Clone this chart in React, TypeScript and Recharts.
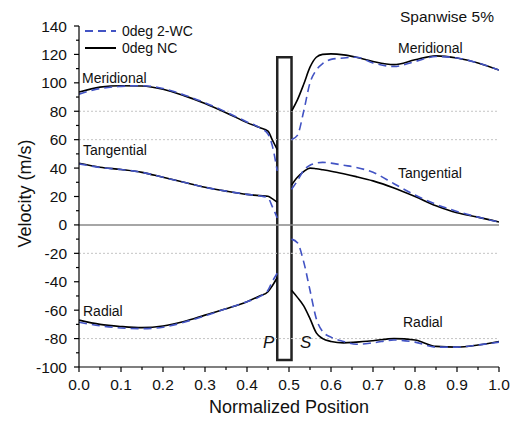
import React from 'react';
import {
  LineChart,
  Line,
  XAxis,
  YAxis,
  ReferenceLine,
  ReferenceArea,
  Legend
} from 'recharts';

const FONT = "'Liberation Sans', Arial, sans-serif";
const WC_COLOR = '#4253c4';

// normalized positions, pressure side of the blade / suction side of the blade
const leftPositions = [0, 0.05, 0.1, 0.15, 0.2, 0.25, 0.3, 0.35, 0.4, 0.43, 0.45, 0.46, 0.472];
const rightPositions = [0.506, 0.52, 0.535, 0.55, 0.565, 0.58, 0.6, 0.63, 0.66, 0.7, 0.75, 0.8, 0.85, 0.9, 0.95, 1.0];

// velocities (m/s), left values then right values
const ncMeridional = [
  93.5, 97, 98, 97.8, 95.5, 91, 85.5, 79, 72, 68.5, 66, 60, 53,
  80, 88, 99, 111, 118, 120, 120.4, 119.7, 118, 115, 112.8, 116.2, 119, 117.5, 114, 109
];
const wcMeridional = [
  92, 96, 97.5, 98, 96, 91.5, 86, 79.5, 72.5, 68.5, 64, 56, 38,
  60, 63, 80, 100, 109, 113.5, 116.5, 117.5, 118, 114, 111.5, 115, 118.5, 117.5, 114, 109
];
const ncTangential = [
  43.4, 40.6, 39, 37, 33.5, 30, 26.5, 23.8, 21.5, 20.6, 20.2, 18.5, 16,
  28, 33.5, 37.5, 40, 39.5, 38.8, 37.8, 36, 34, 31, 26, 20, 13.5, 8.5, 5.5, 2
];
const wcTangential = [
  43, 40.5, 39, 37, 33.5, 30, 26.5, 23.8, 21.5, 20.5, 19, 13, 5,
  25, 31, 38.5, 42, 43.5, 44, 43.5, 42, 40.5, 37, 29, 21, 14.5, 9.5, 5.5, 2
];
const ncRadial = [
  -67, -70, -71.5, -72.3, -71.2, -68, -63.5, -59, -54, -50, -47, -43, -37,
  -46, -51, -57, -66, -76, -80, -82, -83, -82.5, -81.5, -80, -81, -85.5, -86, -84.5, -82
];
const wcRadial = [
  -68.5, -71, -72.5, -73, -72, -68.5, -64, -59, -54, -50.5, -46, -40, -34,
  -10, -12.5, -26, -46, -66, -75, -79, -82, -84, -83, -81, -82.5, -86, -86, -84.5, -82.5
];

const xTicks = [0, 0.05, 0.1, 0.15, 0.2, 0.25, 0.3, 0.35, 0.4, 0.45, 0.5, 0.55, 0.6, 0.65, 0.7, 0.75, 0.8, 0.85, 0.9, 0.95, 1.0];
const yTicks = [-100, -90, -80, -70, -60, -50, -40, -30, -20, -10, 0, 10, 20, 30, 40, 50, 60, 70, 80, 90, 100, 110, 120, 130, 140];
const dottedLevels = [80, 60, -20, -80];
const legendNames = ['0deg 2-WC', '0deg NC'];
const blade = { x1: 0.472, x2: 0.506, y1: -95, y2: 118 };

const rows = [...leftPositions, ...rightPositions].map((x, i) => ({
  x,
  ncMer: ncMeridional[i],
  wcMer: wcMeridional[i],
  ncTan: ncTangential[i],
  wcTan: wcTangential[i],
  ncRad: ncRadial[i],
  wcRad: wcRadial[i]
}));
const gap = { x: 0.49, ncMer: null, wcMer: null, ncTan: null, wcTan: null, ncRad: null, wcRad: null };
const data = [...rows.slice(0, leftPositions.length), gap, ...rows.slice(leftPositions.length)];

const XTick = (props: any) => {
  const { x, y, payload } = props;
  const major = Math.round(payload.value * 100) % 10 === 0;
  return (
    <g>
      <line x1={x} y1={y} x2={x} y2={y + (major ? 5 : 3)} stroke="#000" strokeWidth={1.2} />
      {major && (
        <text x={x} y={y + 23} textAnchor="middle" fontSize={15.5} fill="#111" fontFamily={FONT}>
          {payload.value.toFixed(1)}
        </text>
      )}
    </g>
  );
};

const YTick = (props: any) => {
  const { x, y, payload } = props;
  const major = payload.value % 20 === 0;
  return (
    <g>
      <line x1={x} y1={y} x2={x - (major ? 5 : 3)} y2={y} stroke="#000" strokeWidth={1.2} />
      {major && (
        <text x={x - 12} y={y + 5.5} textAnchor="end" fontSize={15.5} fill="#111" fontFamily={FONT}>
          {payload.value}
        </text>
      )}
    </g>
  );
};

const renderLegend = (props: any) => {
  const items = (props.payload || [])
    .filter((it: any) => legendNames.includes(it.value))
    .sort((a: any, b: any) => legendNames.indexOf(a.value) - legendNames.indexOf(b.value));
  return (
    <div style={{ fontFamily: FONT, fontSize: 14, color: '#111' }}>
      {items.map((it: any) => (
        <div key={it.value} style={{ display: 'flex', alignItems: 'center', height: 17 }}>
          <svg width={38} height={10}>
            <line
              x1={1}
              y1={5}
              x2={32}
              y2={5}
              stroke={it.color}
              strokeWidth={2}
              strokeDasharray={it.payload && it.payload.strokeDasharray}
            />
          </svg>
          <span>{it.value}</span>
        </div>
      ))}
    </div>
  );
};

const notes = [
  { text: 'Meridional', left: 82, top: 71 },
  { text: 'Meridional', left: 398, top: 41 },
  { text: 'Tangential', left: 83, top: 143 },
  { text: 'Tangential', left: 398, top: 166 },
  { text: 'Radial', left: 83, top: 304 },
  { text: 'Radial', left: 403, top: 315 }
];

const App: React.FC = () => {
  return (
    <div style={{ position: 'absolute', left: 0, top: 0, width: 512, height: 423, background: '#fff', fontFamily: FONT }}>
      <LineChart width={512} height={423} data={data} margin={{ top: 26, right: 13, bottom: 16, left: 19 }}>
        <XAxis
          dataKey="x"
          type="number"
          domain={[0, 1]}
          ticks={xTicks}
          interval={0}
          tick={<XTick />}
          tickLine={false}
          tickSize={0}
          tickMargin={0}
          height={40}
          axisLine={{ stroke: '#000', strokeWidth: 1.2 }}
          allowDataOverflow
          label={{
            content: (p: any) => (
              <text
                x={p.viewBox.x + p.viewBox.width / 2}
                y={p.viewBox.y + 46}
                textAnchor="middle"
                fontSize={18}
                fill="#111"
                fontFamily={FONT}
              >
                Normalized Position
              </text>
            )
          }}
        />
        <YAxis
          type="number"
          domain={[-100, 140]}
          ticks={yTicks}
          interval={0}
          tick={<YTick />}
          tickLine={false}
          tickSize={0}
          tickMargin={0}
          width={60}
          axisLine={{ stroke: '#000', strokeWidth: 1.2 }}
          allowDataOverflow
          label={{
            content: (p: any) => {
              const cx = p.viewBox.x + 12;
              const cy = p.viewBox.y + p.viewBox.height / 2 - 3;
              return (
                <text
                  x={cx}
                  y={cy}
                  transform={`rotate(-90 ${cx} ${cy})`}
                  textAnchor="middle"
                  fontSize={18}
                  fill="#111"
                  fontFamily={FONT}
                >
                  Velocity (m/s)
                </text>
              );
            }
          }}
        />
        {dottedLevels.map((lv) => (
          <ReferenceLine key={lv} y={lv} stroke="#c4c4c4" strokeDasharray="2 2" strokeWidth={1} />
        ))}
        <ReferenceLine y={0} stroke="#888" strokeWidth={1.5} />

        <Line dataKey="ncMer" name="0deg NC" type="monotone" stroke="#000" strokeWidth={1.6} dot={false} isAnimationActive={false} />
        <Line dataKey="ncTan" type="monotone" stroke="#000" strokeWidth={1.6} dot={false} legendType="none" isAnimationActive={false} />
        <Line dataKey="ncRad" type="monotone" stroke="#000" strokeWidth={1.6} dot={false} legendType="none" isAnimationActive={false} />
        <Line dataKey="wcMer" name="0deg 2-WC" type="monotone" stroke={WC_COLOR} strokeWidth={1.6} strokeDasharray="8 5" dot={false} isAnimationActive={false} />
        <Line dataKey="wcTan" type="monotone" stroke={WC_COLOR} strokeWidth={1.6} strokeDasharray="8 5" dot={false} legendType="none" isAnimationActive={false} />
        <Line dataKey="wcRad" type="monotone" stroke={WC_COLOR} strokeWidth={1.6} strokeDasharray="8 5" dot={false} legendType="none" isAnimationActive={false} />

        <ReferenceArea {...blade} fill="#fff" fillOpacity={1} stroke="#222" strokeWidth={2.5} />

        <Legend
          layout="vertical"
          verticalAlign="middle"
          align="center"
          content={renderLegend}
          wrapperStyle={{ position: 'absolute', left: 84, top: 22, width: 150, height: 36 }}
        />
      </LineChart>

      {notes.map((n, i) => (
        <span
          key={i}
          style={{ position: 'absolute', left: n.left, top: n.top, fontSize: 14, lineHeight: '14px', color: '#111', whiteSpace: 'nowrap' }}
        >
          {n.text}
        </span>
      ))}
      <span style={{ position: 'absolute', left: 400, top: 9, fontSize: 15.5, lineHeight: '16px', color: '#111', whiteSpace: 'nowrap' }}>
        Spanwise 5%
      </span>
      <span style={{ position: 'absolute', left: 263, top: 334, fontSize: 17, lineHeight: '17px', fontStyle: 'italic', color: '#111' }}>
        P
      </span>
      <span style={{ position: 'absolute', left: 300, top: 334, fontSize: 17, lineHeight: '17px', fontStyle: 'italic', color: '#111' }}>
        S
      </span>
    </div>
  );
};

export default App;
